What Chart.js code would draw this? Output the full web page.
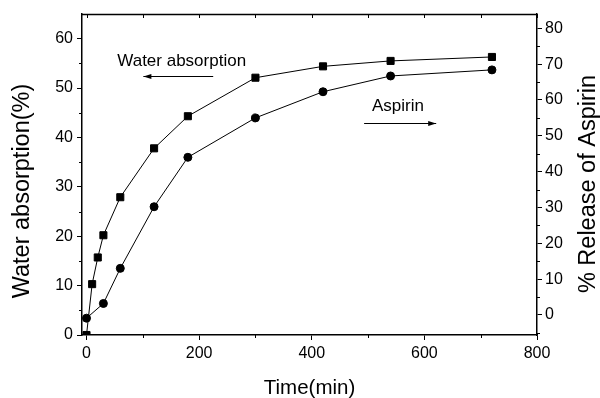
<!DOCTYPE html>
<html>
<head>
<meta charset="utf-8">
<script src="https://cdn.jsdelivr.net/npm/chart.js@4/dist/chart.umd.min.js"></script>
<style>
  html, body { margin: 0; padding: 0; background: #fff; }
  #wrap { width: 600px; height: 398px; position: relative; }
</style>
</head>
<body>
<div id="wrap"><canvas id="c" width="600" height="398"></canvas></div>
<script>
// ---- data ----
const waterTimes = [0, 10, 20, 30, 60, 120, 180, 300, 420, 540, 720];
const waterAbsorption = [0, 10.3, 15.7, 20.2, 27.9, 37.8, 44.3, 52.1, 54.4, 55.5, 56.3];
const aspirinTimes = [0, 30, 60, 120, 180, 300, 420, 540, 720];
const aspirinRelease = [-0.9, 3.2, 13.0, 30.2, 44.0, 55.0, 62.3, 66.7, 68.4];
const xTickValues = [0, 200, 400, 600, 800];
const leftTickValues = [0, 10, 20, 30, 40, 50, 60];
const rightTickValues = [0, 10, 20, 30, 40, 50, 60, 70, 80];
const xMinorValues = [100, 300, 500, 700];
const leftMinorValues = [5, 15, 25, 35, 45, 55];
const rightMinorValues = [-5, 5, 15, 25, 35, 45, 55, 65, 75];
const xTitle = 'Time(min)';
const leftTitle = 'Water absorption(%)';
const rightTitle = '% Release of Aspirin';
const waterLabel = 'Water absorption';
const aspirinLabel = 'Aspirin';

const FONT = "'Liberation Sans', Arial, sans-serif";
Chart.defaults.color = '#000';
Chart.defaults.font.family = FONT;

function pts(xs, ys) { return xs.map((x, i) => ({ x: x, y: ys[i] })); }

const decor = {
  id: 'decor',
  afterDraw(chart) {
    const ctx = chart.ctx;
    const x = chart.scales.x, yl = chart.scales.y, yr = chart.scales.y2;
    const a = chart.chartArea;
    ctx.save();
    ctx.strokeStyle = '#000';
    ctx.fillStyle = '#000';
    // top frame
    ctx.lineWidth = 1.5;
    ctx.beginPath();
    ctx.moveTo(a.left, a.top + 0.5);
    ctx.lineTo(a.right, a.top + 0.5);
    ctx.stroke();
    ctx.lineWidth = 1;
    // top inward ticks
    [...xTickValues, ...xMinorValues].forEach(v => {
      const px = Math.round(x.getPixelForValue(v)) + 0.5;
      ctx.beginPath(); ctx.moveTo(px, a.top); ctx.lineTo(px, a.top + 4); ctx.stroke();
    });
    // minor ticks
    xMinorValues.forEach(v => {
      const px = Math.round(x.getPixelForValue(v)) + 0.5;
      ctx.beginPath(); ctx.moveTo(px, a.bottom); ctx.lineTo(px, a.bottom + 3); ctx.stroke();
    });
    leftMinorValues.forEach(v => {
      const py = Math.round(yl.getPixelForValue(v)) + 0.5;
      ctx.beginPath(); ctx.moveTo(a.left, py); ctx.lineTo(a.left - 3, py); ctx.stroke();
    });
    rightMinorValues.forEach(v => {
      const py = Math.round(yr.getPixelForValue(v)) + 0.5;
      ctx.beginPath(); ctx.moveTo(a.right, py); ctx.lineTo(a.right + 3, py); ctx.stroke();
    });
    // axis titles
    ctx.textAlign = 'center';
    ctx.textBaseline = 'middle';
    ctx.font = '20.5px ' + FONT;
    ctx.fillText(xTitle, (a.left + a.right) / 2, 388);
    ctx.font = '23.5px ' + FONT;
    ctx.save(); ctx.translate(23, 191); ctx.rotate(-Math.PI / 2); ctx.fillText(leftTitle, 0, 0); ctx.restore();
    ctx.save(); ctx.translate(589, 184); ctx.rotate(-Math.PI / 2); ctx.fillText(rightTitle, 0, 0); ctx.restore();
    // annotations
    ctx.font = '17px ' + FONT;
    ctx.fillText(waterLabel, x.getPixelForValue(169), yl.getPixelForValue(55.5));
    ctx.fillText(aspirinLabel, x.getPixelForValue(553), yl.getPixelForValue(46.4));
    function arrow(x1, x2, yv) {
      const p1 = x.getPixelForValue(x1), p2 = x.getPixelForValue(x2);
      const py = Math.round(yl.getPixelForValue(yv)) + 0.5;
      const dir = Math.sign(p2 - p1);
      ctx.beginPath(); ctx.moveTo(p1, py); ctx.lineTo(p2, py); ctx.stroke();
      ctx.beginPath();
      ctx.moveTo(p2, py);
      ctx.lineTo(p2 - dir * 8, py - 2.5);
      ctx.lineTo(p2 - dir * 8, py + 2.5);
      ctx.closePath(); ctx.fill();
    }
    arrow(225, 101, 52.4);
    arrow(493, 621, 42.9);
    ctx.restore();
  }
};

function fixTicks(values) {
  return function (scale) { scale.ticks = values.map(v => ({ value: v })); };
}

new Chart(document.getElementById('c'), {
  type: 'scatter',
  data: {
    datasets: [
      {
        label: waterLabel,
        data: pts(waterTimes, waterAbsorption),
        yAxisID: 'y',
        showLine: true,
        borderColor: '#000',
        backgroundColor: '#000',
        borderWidth: 1,
        pointStyle: 'rect',
        pointRadius: 5,
        pointHoverRadius: 5
      },
      {
        label: aspirinLabel,
        data: pts(aspirinTimes, aspirinRelease),
        yAxisID: 'y2',
        showLine: true,
        borderColor: '#000',
        backgroundColor: '#000',
        borderWidth: 1,
        pointStyle: 'circle',
        pointRadius: 4,
        pointHoverRadius: 4
      }
    ]
  },
  options: {
    responsive: false,
    animation: false,
    layout: { padding: { top: 14, left: 0, right: 0, bottom: 0 } },
    plugins: { legend: { display: false }, tooltip: { enabled: false } },
    scales: {
      x: {
        type: 'linear',
        min: -8, max: 800,
        afterBuildTicks: fixTicks(xTickValues),
        afterFit(s) { s.height = 63; },
        grid: { drawOnChartArea: false, color: '#000', tickLength: 5, tickWidth: 1 },
        border: { color: '#000', width: 1.5 },
        ticks: { font: { size: 16 }, padding: 4, maxRotation: 0, color: '#000' }
      },
      y: {
        type: 'linear',
        position: 'left',
        min: 0, max: 65,
        afterBuildTicks: fixTicks(leftTickValues),
        afterFit(s) { s.width = 82; },
        grid: { drawOnChartArea: false, color: '#000', tickLength: 5, tickWidth: 1 },
        border: { color: '#000', width: 1.5 },
        ticks: { font: { size: 16 }, padding: 4, color: '#000' }
      },
      y2: {
        type: 'linear',
        position: 'right',
        min: -5.6, max: 84,
        afterBuildTicks: fixTicks(rightTickValues),
        afterFit(s) { s.width = 63; },
        grid: { drawOnChartArea: false, color: '#000', tickLength: 5, tickWidth: 1 },
        border: { color: '#000', width: 1.5 },
        ticks: { font: { size: 16 }, padding: 3, color: '#000' }
      }
    }
  },
  plugins: [decor]
});
</script>
</body>
</html>
